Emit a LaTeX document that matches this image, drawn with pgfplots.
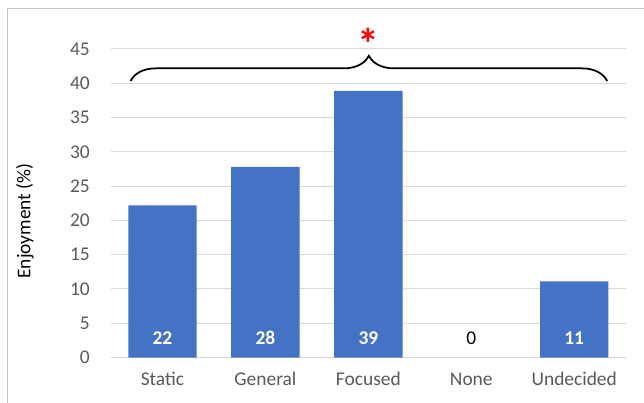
\documentclass[border=0pt]{standalone}
\usepackage{pgfplots}
\pgfplotsset{compat=1.18}
\usepackage{pgfplotstable}
\usepackage{fontspec}
\setmainfont{Carlito}
\usetikzlibrary{decorations.pathreplacing}

\definecolor{barblue}{HTML}{4472C4}
\definecolor{gridgray}{HTML}{D9D9D9}
\definecolor{ticktext}{HTML}{595959}
\definecolor{framegray}{HTML}{C6C6C6}

% share of participants (%) per condition
\pgfplotstableread{
x v
0 22.2
1 27.8
2 38.9
3 0
4 11.1
}\enjoy

% labels shown inside the filled bars
\pgfplotstableread{
x v
0 22.2
1 27.8
2 38.9
4 11.1
}\barlabels

% label for the empty category
\pgfplotstableread{
x v
3 0
}\zerolabel

\newcommand{\chartfont}{\fontsize{19.5}{23}\selectfont}

\begin{document}
\begin{tikzpicture}
\useasboundingbox (0,0) rectangle (644bp,403bp);
\draw[framegray, line width=1bp] (7.3bp,0) -- (7.3bp,394bp) -- (646bp,394bp);
\begin{axis}[
  at={(111bp,45.5bp)}, anchor=south west,
  scale only axis, width=514.7bp, height=308.5bp,
  xmin=-0.5, xmax=4.5, ymin=0, ymax=45,
  ytick={0,5,...,45},
  xtick={0,1,2,3,4},
  xticklabels={Static,General,Focused,None,Undecided},
  axis line style={draw=none},
  ymajorgrids, grid style={gridgray, line width=1bp},
  major tick length=0pt,
  tick label style={ticktext, font=\chartfont},
  yticklabel style={anchor=east, inner sep=0pt, xshift=-21bp},
  xticklabel style={anchor=base, inner sep=0pt, yshift=-28bp},
  ylabel={Enjoyment (\%)},
  every axis y label/.style={at={(axis description cs:-0.167,0.4425)}, rotate=90, anchor=center, font=\chartfont, black},
  clip=false,
  /pgf/number format/assume math mode=true,
]
% zero-height bars are left out so no sliver is drawn on the baseline
\addplot[ybar, bar width=0.664, bar shift=0pt, fill=barblue, draw=none,
  restrict y to domain=0.001:100]
  table[x=x, y=v] {\enjoy};

\addplot[draw=none, mark=none, point meta=explicit,
  nodes near coords={\bfseries\pgfmathprintnumber[fixed,precision=0]{\pgfplotspointmeta}},
  every node near coord/.append style={white, font=\chartfont, anchor=base, inner sep=0pt, yshift=13.5bp}]
  table[x=x, y expr=0, meta=v] {\barlabels};

\addplot[draw=none, mark=none, point meta=explicit,
  nodes near coords={\pgfmathprintnumber[fixed,precision=0]{\pgfplotspointmeta}},
  every node near coord/.append style={black, font=\chartfont, anchor=base, inner sep=0pt, yshift=13.5bp}]
  table[x=x, y expr=0, meta=v] {\zerolabel};

% bracket spanning all conditions, with significance marker
\draw[decorate, decoration={brace, amplitude=25.3bp}, line width=1.75bp]
  (axis cs:-0.31,40.33) -- (axis cs:4.32,40.33);
\node[red, font=\fontsize{44}{44}\selectfont\bfseries, anchor=base, inner sep=0pt]
  at (axis cs:2,43.45) {*};
\end{axis}
\end{tikzpicture}
\end{document}
